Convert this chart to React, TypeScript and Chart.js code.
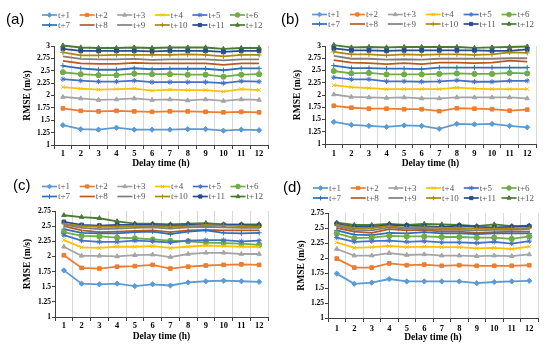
import React, { useEffect, useRef } from 'react';
import { Chart, registerables } from 'chart.js';
import { drawPoint } from 'chart.js/helpers';

Chart.register(...registerables);

const delayHours = ['1', '2', '3', '4', '5', '6', '7', '8', '9', '10', '11', '12'];
const seriesNames = ['t+1', 't+2', 't+3', 't+4', 't+5', 't+6', 't+7', 't+8', 't+9', 't+10', 't+11', 't+12'];
const seriesColors = ['#5B9BD5', '#ED7D31', '#A5A5A5', '#FFC000', '#4472C4', '#70AD47', '#2E6FB7', '#B85A20', '#7F7F7F', '#A88A12', '#284C8C', '#4A7A33'];
const seriesMarkers: (string | false)[] = ['rectRot', 'rect', 'triangle', 'crossRot', 'star', 'circle', 'cross', false, false, 'cross', 'rect', 'triangle'];

const rmseA: number[][] = [
  [1.40, 1.32, 1.31, 1.35, 1.31, 1.31, 1.31, 1.32, 1.32, 1.29, 1.31, 1.30],
  [1.74, 1.69, 1.68, 1.69, 1.68, 1.67, 1.68, 1.68, 1.67, 1.66, 1.67, 1.66],
  [1.97, 1.94, 1.91, 1.92, 1.94, 1.91, 1.92, 1.90, 1.92, 1.89, 1.92, 1.91],
  [2.17, 2.14, 2.12, 2.13, 2.14, 2.10, 2.12, 2.11, 2.11, 2.08, 2.13, 2.11],
  [2.33, 2.30, 2.28, 2.28, 2.30, 2.27, 2.27, 2.27, 2.27, 2.25, 2.29, 2.28],
  [2.47, 2.43, 2.41, 2.41, 2.44, 2.43, 2.43, 2.42, 2.42, 2.38, 2.42, 2.43],
  [2.60, 2.55, 2.52, 2.52, 2.55, 2.53, 2.54, 2.54, 2.54, 2.51, 2.55, 2.55],
  [2.70, 2.65, 2.64, 2.64, 2.66, 2.65, 2.65, 2.65, 2.65, 2.62, 2.65, 2.65],
  [2.79, 2.74, 2.73, 2.73, 2.74, 2.72, 2.73, 2.73, 2.73, 2.71, 2.73, 2.73],
  [2.87, 2.81, 2.81, 2.82, 2.82, 2.82, 2.82, 2.83, 2.82, 2.79, 2.82, 2.82],
  [2.94, 2.90, 2.90, 2.90, 2.90, 2.89, 2.90, 2.90, 2.90, 2.88, 2.90, 2.90],
  [3.01, 2.97, 2.96, 2.96, 2.97, 2.96, 2.97, 2.97, 2.97, 2.94, 2.96, 2.96],
];

const rmseB: number[][] = [
  [1.45, 1.39, 1.37, 1.35, 1.38, 1.37, 1.31, 1.41, 1.40, 1.41, 1.37, 1.34],
  [1.78, 1.74, 1.72, 1.72, 1.71, 1.71, 1.67, 1.73, 1.72, 1.71, 1.68, 1.70],
  [2.01, 1.96, 1.95, 1.94, 1.95, 1.93, 1.93, 1.95, 1.95, 1.95, 1.95, 1.93],
  [2.20, 2.16, 2.14, 2.12, 2.12, 2.12, 2.12, 2.15, 2.13, 2.12, 2.12, 2.12],
  [2.36, 2.32, 2.32, 2.28, 2.28, 2.27, 2.28, 2.30, 2.27, 2.27, 2.29, 2.29],
  [2.49, 2.44, 2.45, 2.42, 2.42, 2.42, 2.43, 2.44, 2.43, 2.43, 2.45, 2.44],
  [2.60, 2.55, 2.55, 2.54, 2.54, 2.53, 2.56, 2.56, 2.56, 2.56, 2.56, 2.56],
  [2.71, 2.66, 2.65, 2.63, 2.65, 2.63, 2.66, 2.66, 2.65, 2.66, 2.70, 2.68],
  [2.80, 2.74, 2.74, 2.72, 2.73, 2.72, 2.74, 2.74, 2.74, 2.74, 2.75, 2.75],
  [2.88, 2.83, 2.83, 2.81, 2.83, 2.82, 2.83, 2.83, 2.82, 2.83, 2.87, 2.86],
  [2.95, 2.91, 2.91, 2.90, 2.91, 2.91, 2.91, 2.91, 2.91, 2.90, 2.90, 2.93],
  [3.02, 2.97, 2.98, 2.97, 2.98, 2.98, 2.98, 2.98, 2.96, 2.97, 2.98, 2.99],
];

const rmseC: number[][] = [
  [1.77, 1.55, 1.54, 1.55, 1.51, 1.54, 1.52, 1.57, 1.59, 1.60, 1.59, 1.58],
  [2.02, 1.81, 1.80, 1.83, 1.84, 1.86, 1.80, 1.83, 1.85, 1.86, 1.87, 1.86],
  [2.16, 2.01, 2.01, 2.00, 2.02, 2.03, 1.99, 2.04, 2.06, 2.06, 2.04, 2.04],
  [2.27, 2.15, 2.14, 2.16, 2.16, 2.17, 2.14, 2.16, 2.18, 2.17, 2.16, 2.16],
  [2.35, 2.26, 2.24, 2.24, 2.26, 2.25, 2.23, 2.26, 2.27, 2.27, 2.25, 2.26],
  [2.40, 2.34, 2.33, 2.31, 2.30, 2.28, 2.26, 2.25, 2.23, 2.22, 2.21, 2.19],
  [2.45, 2.39, 2.38, 2.38, 2.40, 2.41, 2.37, 2.41, 2.43, 2.39, 2.38, 2.39],
  [2.50, 2.43, 2.40, 2.41, 2.42, 2.43, 2.40, 2.43, 2.44, 2.43, 2.43, 2.43],
  [2.53, 2.47, 2.45, 2.46, 2.47, 2.48, 2.46, 2.48, 2.49, 2.48, 2.47, 2.47],
  [2.54, 2.50, 2.49, 2.49, 2.50, 2.50, 2.49, 2.50, 2.52, 2.51, 2.50, 2.49],
  [2.57, 2.52, 2.51, 2.52, 2.52, 2.52, 2.51, 2.52, 2.52, 2.52, 2.52, 2.51],
  [2.68, 2.65, 2.63, 2.58, 2.54, 2.54, 2.53, 2.54, 2.55, 2.53, 2.53, 2.53],
];

const rmseD: number[][] = [
  [1.74, 1.57, 1.59, 1.65, 1.61, 1.61, 1.61, 1.61, 1.58, 1.60, 1.61, 1.62],
  [1.99, 1.84, 1.84, 1.91, 1.88, 1.89, 1.87, 1.88, 1.87, 1.87, 1.87, 1.88],
  [2.15, 2.04, 2.04, 2.08, 2.05, 2.06, 2.04, 2.04, 2.03, 2.04, 2.03, 2.06],
  [2.26, 2.17, 2.18, 2.20, 2.18, 2.19, 2.18, 2.18, 2.16, 2.17, 2.15, 2.19],
  [2.34, 2.27, 2.28, 2.29, 2.27, 2.28, 2.26, 2.26, 2.25, 2.27, 2.24, 2.28],
  [2.41, 2.33, 2.34, 2.37, 2.36, 2.36, 2.35, 2.35, 2.34, 2.34, 2.32, 2.36],
  [2.46, 2.39, 2.38, 2.42, 2.41, 2.43, 2.41, 2.41, 2.40, 2.41, 2.41, 2.41],
  [2.50, 2.44, 2.42, 2.48, 2.46, 2.47, 2.44, 2.44, 2.42, 2.43, 2.44, 2.44],
  [2.53, 2.47, 2.46, 2.51, 2.49, 2.49, 2.47, 2.47, 2.46, 2.47, 2.47, 2.48],
  [2.55, 2.50, 2.50, 2.53, 2.50, 2.51, 2.50, 2.50, 2.49, 2.49, 2.49, 2.50],
  [2.57, 2.52, 2.52, 2.55, 2.54, 2.53, 2.52, 2.54, 2.52, 2.51, 2.52, 2.53],
  [2.59, 2.55, 2.55, 2.57, 2.55, 2.57, 2.56, 2.55, 2.53, 2.56, 2.53, 2.54],
];

const yMinAll = 1;
const yMaxAB = 3;
const yMaxCD = 2.75;
const yStep = 0.25;
const panelTags = ['(a)', '(b)', '(c)', '(d)'];
const xTitle = 'Delay time (h)';
const yTitle = 'RMSE (m/s)';

const W = 275;
const H = 174;

type Panel = {
  tag: string;
  data: number[][];
  yMax: number;
  pos: { x: number; y: number };
  area: { left: number; right: number; top: number; bottom: number };
  legend: { x0: number; pitch: number; rows: number[] };
  tagPos: { x: number; y: number };
  tickCY: number;
  titleCY: number;
  yTitleCX: number;
};

const panels: Panel[] = [
  {
    tag: panelTags[0], data: rmseA, yMax: yMaxAB, pos: { x: 0, y: 0 },
    area: { left: 54, right: 268, top: 46, bottom: 145 },
    legend: { x0: 42, pitch: 37.6, rows: [15, 25] },
    tagPos: { x: 6, y: 20 }, tickCY: 154, titleCY: 164, yTitleCX: 28,
  },
  {
    tag: panelTags[1], data: rmseB, yMax: yMaxAB, pos: { x: 275, y: 0 },
    area: { left: 50, right: 261, top: 46, bottom: 144 },
    legend: { x0: 37, pitch: 37.9, rows: [14.5, 24] },
    tagPos: { x: 6, y: 20 }, tickCY: 154, titleCY: 164, yTitleCX: 23,
  },
  {
    tag: panelTags[2], data: rmseC, yMax: yMaxCD, pos: { x: 0, y: 174 },
    area: { left: 55, right: 268, top: 37, bottom: 143 },
    legend: { x0: 42, pitch: 37.7, rows: [12.5, 22.5] },
    tagPos: { x: 13, y: 12 }, tickCY: 151, titleCY: 162.5, yTitleCX: 28,
  },
  {
    tag: panelTags[3], data: rmseD, yMax: yMaxCD, pos: { x: 275, y: 174 },
    area: { left: 53, right: 263, top: 39, bottom: 144 },
    legend: { x0: 38, pitch: 37.7, rows: [14, 24] },
    tagPos: { x: 8, y: 13.5 }, tickCY: 154.5, titleCY: 164, yTitleCX: 26.5,
  },
];

const SERIF = '"Liberation Serif", "Times New Roman", serif';

const gridLegendPlugin = {
  id: 'gridLegend',
  afterDraw(chart: any, _args: any, opts: any) {
    const ctx = chart.ctx as CanvasRenderingContext2D;
    ctx.save();
    chart.data.datasets.forEach((ds: any, i: number) => {
      const col = i % 6;
      const row = Math.floor(i / 6);
      const x = opts.x0 + col * opts.pitch;
      const y = opts.rows[row];
      ctx.strokeStyle = ds.borderColor;
      ctx.lineWidth = 1.7;
      ctx.beginPath();
      ctx.moveTo(x, y);
      ctx.lineTo(x + 15, y);
      ctx.stroke();
      if (ds.pointStyle && ds.pointRadius > 0) {
        ctx.fillStyle = ds.backgroundColor;
        ctx.strokeStyle = ds.borderColor;
        ctx.lineWidth = 1;
        drawPoint(ctx, { pointStyle: ds.pointStyle, rotation: 0, radius: 2.3, borderWidth: 1 } as any, x + 7.5, y);
      }
      ctx.fillStyle = '#595959';
      ctx.font = `9px ${SERIF}`;
      ctx.textBaseline = 'middle';
      ctx.textAlign = 'left';
      ctx.fillText(ds.label, x + 16, y + 0.5);
    });
    ctx.fillStyle = '#000';
    ctx.font = '15px "Liberation Sans", Arial, sans-serif';
    ctx.textBaseline = 'middle';
    ctx.textAlign = 'left';
    ctx.fillText(opts.tag, opts.tagX, opts.tagY);
    ctx.restore();
  },
};

function PanelChart({ p }: { p: Panel }) {
  const ref = useRef<HTMLCanvasElement | null>(null);
  useEffect(() => {
    if (!ref.current) return;
    const xTickFont = 8.5;
    const xTickLen = 4;
    const xPad = Math.max(0, p.tickCY - p.area.bottom - xTickLen - (xTickFont * 1.2) / 2);
    const titleFont = 9.5;
    const titleLH = titleFont * 1.2;
    const chart = new Chart(ref.current, {
      type: 'line',
      data: {
        labels: delayHours,
        datasets: p.data.map((vals, i) => ({
          label: seriesNames[i],
          data: vals,
          borderColor: seriesColors[i],
          backgroundColor: seriesColors[i],
          borderWidth: 1.8,
          pointStyle: (seriesMarkers[i] || 'circle') as any,
          pointRadius: seriesMarkers[i] ? 2.6 : 0,
          pointBorderWidth: 1,
          pointBorderColor: seriesColors[i],
          pointBackgroundColor: seriesColors[i],
          tension: 0,
          clip: false as any,
        })),
      },
      options: {
        responsive: false,
        animation: false,
        events: [],
        layout: {
          padding: { left: 0, top: p.area.top, right: W - p.area.right, bottom: 0 },
        },
        plugins: {
          legend: { display: false },
          tooltip: { enabled: false },
          gridLegend: {
            x0: p.legend.x0, pitch: p.legend.pitch, rows: p.legend.rows,
            tag: p.tag, tagX: p.tagPos.x, tagY: p.tagPos.y,
          },
        } as any,
        scales: {
          x: {
            type: 'category',
            offset: true,
            grid: {
              offset: true,
              display: true,
              drawOnChartArea: true,
              color: '#D9D9D9',
              lineWidth: 1,
              drawTicks: true,
              tickLength: xTickLen,
              tickColor: '#404040',
            },
            border: { display: true, color: '#404040', width: 1 },
            ticks: {
              color: '#000',
              font: { family: SERIF, size: xTickFont, weight: 'bold' },
              padding: xPad,
              maxRotation: 0,
              autoSkip: false,
            },
            title: {
              display: true,
              text: xTitle,
              color: '#000',
              font: { family: SERIF, size: titleFont, weight: 'bold' },
              padding: { top: 0, bottom: Math.max(0, H - p.titleCY - titleLH / 2) },
            },
            afterFit: (s: any) => { s.height = H - p.area.bottom; },
          },
          y: {
            type: 'linear',
            min: yMinAll,
            max: p.yMax,
            grid: {
              display: true,
              drawOnChartArea: false,
              drawTicks: true,
              tickLength: 3,
              tickColor: '#404040',
            },
            border: { display: true, color: '#404040', width: 1 },
            ticks: {
              stepSize: yStep,
              color: '#000',
              font: { family: SERIF, size: 7.5, weight: 'bold' },
              padding: 1,
              callback: (v: any) => String(Math.round(Number(v) * 100) / 100),
            },
            title: {
              display: true,
              text: yTitle,
              color: '#000',
              font: { family: SERIF, size: titleFont, weight: 'bold' },
              padding: { top: Math.max(0, p.yTitleCX - titleLH / 2), bottom: 0 },
            },
            afterFit: (s: any) => { s.width = p.area.left; },
          },
        },
      },
      plugins: [gridLegendPlugin],
    });
    return () => chart.destroy();
  }, [p]);
  return (
    <canvas
      ref={ref}
      width={W}
      height={H}
      style={{ position: 'absolute', left: p.pos.x, top: p.pos.y, width: W, height: H }}
    />
  );
}

export default function App() {
  useEffect(() => {
    document.body.style.margin = '0';
  }, []);
  return (
    <div style={{ position: 'absolute', left: 0, top: 0, width: 550, height: 348, background: '#fff', overflow: 'hidden' }}>
      {panels.map((p) => (
        <PanelChart key={p.tag} p={p} />
      ))}
    </div>
  );
}
